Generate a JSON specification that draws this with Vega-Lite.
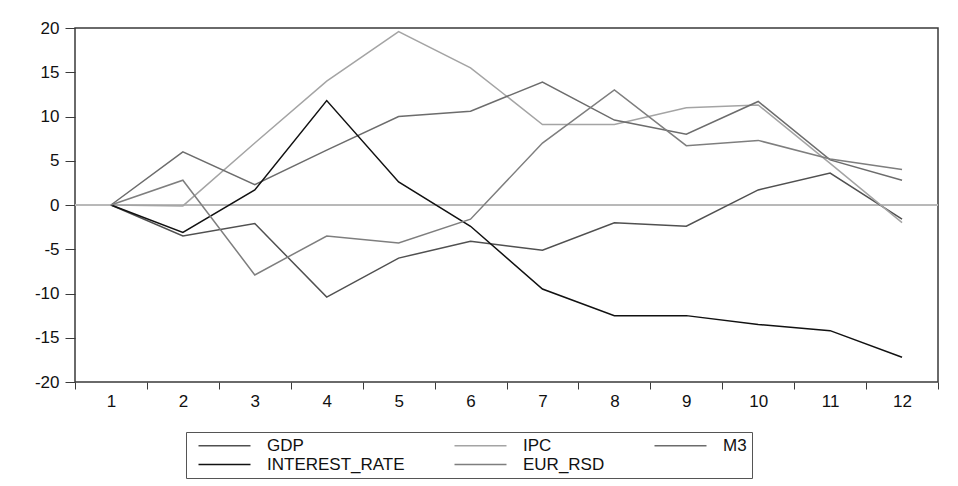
{
  "$schema": "https://vega.github.io/schema/vega-lite/v6.json",
  "autosize": {"type": "none"},
  "width": 863,
  "height": 354,
  "padding": {"left": 75, "top": 28, "right": 20, "bottom": 104},
  "background": "white",
  "config": {
    "font": "Liberation Sans",
    "view": {"stroke": "#3a3a3a", "strokeWidth": 1.5},
    "axis": {"domain": false, "grid": false, "tickColor": "#3a3a3a", "tickWidth": 1, "labelColor": "#111", "labelFont": "Liberation Sans", "labelFontSize": 17, "title": null}
  },
  "data": {
    "values": [
      {"t": 1, "series": "GDP", "value": 0}, {"t": 2, "series": "GDP", "value": -3.5}, {"t": 3, "series": "GDP", "value": -2.1}, {"t": 4, "series": "GDP", "value": -10.4}, {"t": 5, "series": "GDP", "value": -6.0}, {"t": 6, "series": "GDP", "value": -4.1}, {"t": 7, "series": "GDP", "value": -5.1}, {"t": 8, "series": "GDP", "value": -2.0}, {"t": 9, "series": "GDP", "value": -2.4}, {"t": 10, "series": "GDP", "value": 1.7}, {"t": 11, "series": "GDP", "value": 3.6}, {"t": 12, "series": "GDP", "value": -1.6},
      {"t": 1, "series": "IPC", "value": 0}, {"t": 2, "series": "IPC", "value": -0.1}, {"t": 3, "series": "IPC", "value": 7.0}, {"t": 4, "series": "IPC", "value": 14.0}, {"t": 5, "series": "IPC", "value": 19.6}, {"t": 6, "series": "IPC", "value": 15.5}, {"t": 7, "series": "IPC", "value": 9.1}, {"t": 8, "series": "IPC", "value": 9.1}, {"t": 9, "series": "IPC", "value": 11.0}, {"t": 10, "series": "IPC", "value": 11.3}, {"t": 11, "series": "IPC", "value": 4.7}, {"t": 12, "series": "IPC", "value": -2.0},
      {"t": 1, "series": "M3", "value": 0}, {"t": 2, "series": "M3", "value": 6.0}, {"t": 3, "series": "M3", "value": 2.3}, {"t": 4, "series": "M3", "value": 6.2}, {"t": 5, "series": "M3", "value": 10.0}, {"t": 6, "series": "M3", "value": 10.6}, {"t": 7, "series": "M3", "value": 13.9}, {"t": 8, "series": "M3", "value": 9.6}, {"t": 9, "series": "M3", "value": 8.0}, {"t": 10, "series": "M3", "value": 11.7}, {"t": 11, "series": "M3", "value": 5.1}, {"t": 12, "series": "M3", "value": 2.8},
      {"t": 1, "series": "INTEREST_RATE", "value": 0}, {"t": 2, "series": "INTEREST_RATE", "value": -3.1}, {"t": 3, "series": "INTEREST_RATE", "value": 1.7}, {"t": 4, "series": "INTEREST_RATE", "value": 11.8}, {"t": 5, "series": "INTEREST_RATE", "value": 2.6}, {"t": 6, "series": "INTEREST_RATE", "value": -2.4}, {"t": 7, "series": "INTEREST_RATE", "value": -9.5}, {"t": 8, "series": "INTEREST_RATE", "value": -12.5}, {"t": 9, "series": "INTEREST_RATE", "value": -12.5}, {"t": 10, "series": "INTEREST_RATE", "value": -13.5}, {"t": 11, "series": "INTEREST_RATE", "value": -14.2}, {"t": 12, "series": "INTEREST_RATE", "value": -17.2},
      {"t": 1, "series": "EUR_RSD", "value": 0}, {"t": 2, "series": "EUR_RSD", "value": 2.8}, {"t": 3, "series": "EUR_RSD", "value": -7.9}, {"t": 4, "series": "EUR_RSD", "value": -3.5}, {"t": 5, "series": "EUR_RSD", "value": -4.3}, {"t": 6, "series": "EUR_RSD", "value": -1.6}, {"t": 7, "series": "EUR_RSD", "value": 7.0}, {"t": 8, "series": "EUR_RSD", "value": 13.0}, {"t": 9, "series": "EUR_RSD", "value": 6.7}, {"t": 10, "series": "EUR_RSD", "value": 7.3}, {"t": 11, "series": "EUR_RSD", "value": 5.2}, {"t": 12, "series": "EUR_RSD", "value": 4.0}
    ]
  },
  "layer": [
    {
      "mark": {"type": "rule", "color": "#b8b8b8", "strokeWidth": 1},
      "encoding": {"y": {"datum": 0, "type": "quantitative", "scale": {"domain": [-20, 20], "nice": false}}}
    },
    {
      "mark": {"type": "line", "strokeWidth": 1.5},
      "encoding": {
        "x": {
          "field": "t",
          "type": "ordinal",
          "scale": {"type": "band", "paddingInner": 0, "paddingOuter": 0},
          "axis": {"labelAngle": 0, "tickBand": "extent", "tickSize": 7, "labelPadding": 4}
        },
        "y": {
          "field": "value",
          "type": "quantitative",
          "scale": {"domain": [-20, 20], "nice": false},
          "axis": {"values": [-20, -15, -10, -5, 0, 5, 10, 15, 20], "tickSize": 10, "labelPadding": 6, "labelExpr": "datum.value < 0 ? '-' + abs(datum.value) : '' + datum.value"}
        },
        "color": {
          "field": "series",
          "type": "nominal",
          "sort": ["GDP", "IPC", "M3", "INTEREST_RATE", "EUR_RSD"],
          "scale": {
            "domain": ["GDP", "IPC", "M3", "INTEREST_RATE", "EUR_RSD"],
            "range": ["#505050", "#a4a4a4", "#6c6c6c", "#111111", "#7e7e7e"]
          },
          "legend": {
            "orient": "none",
            "legendX": 111,
            "legendY": 404,
            "direction": "horizontal",
            "columns": 3,
            "title": null,
            "symbolType": "M-0.2,0H10.2",
            "symbolSize": 100,
            "symbolStrokeWidth": 1.5,
            "labelFont": "Liberation Sans",
            "labelFontSize": 17,
            "labelColor": "#111",
            "labelOffset": 59,
            "columnPadding": 42,
            "rowPadding": 1,
            "padding": 5,
            "strokeColor": "#555",
            "fillColor": "white"
          }
        }
      }
    }
  ]
}
